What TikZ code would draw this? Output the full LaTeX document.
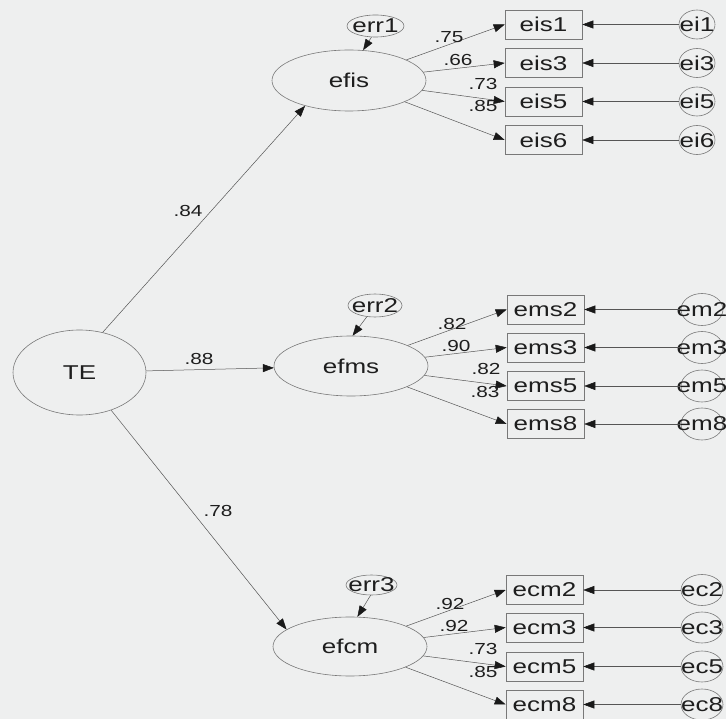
\documentclass[tikz,border=0pt]{standalone}
\usepackage{fontspec}
\setmainfont[FakeStretch=1.3]{Liberation Sans}
\usetikzlibrary{shapes.geometric,arrows.meta}
\definecolor{bg}{RGB}{238,239,239}
\definecolor{ln}{RGB}{85,85,85}
\definecolor{ol}{RGB}{120,120,120}
\definecolor{tx}{RGB}{30,30,30}
\definecolor{tip}{RGB}{25,25,25}
\tikzset{
  lat/.style={ellipse, draw=ol, line width=0.6pt, inner sep=0pt, text=tx, font=\fontsize{20}{24}\selectfont},
  errell/.style={ellipse, draw=ol, line width=0.6pt, inner sep=0pt, label={[text=tx, font=\fontsize{20}{24}\selectfont]center:#1}},
  obs/.style={rectangle, draw=ol, line width=0.6pt, minimum width=77pt, minimum height=29pt, inner sep=0pt, text=tx, font=\fontsize{20}{24}\selectfont},
  coef/.style={text=tx, inner sep=0pt, font=\fontsize{16}{19}\selectfont},
  arr/.style={draw=ln, line width=0.5pt, -{Triangle[length=11pt,width=8pt,color=tip,fill=tip]}},
}
\begin{document}
\begin{tikzpicture}[x=1pt,y=-1pt]
\fill[bg] (0,0) rectangle (726,719);
\useasboundingbox (0,0) rectangle (726,719);

% latent variables
\node[lat, minimum width=133pt, minimum height=85pt] (TE) at (79.5,372.5) {TE};
\node[lat, minimum width=154pt, minimum height=61pt] (efis) at (349,80.5) {efis};
\node[lat, minimum width=154pt, minimum height=60pt] (efms) at (351,366) {efms};
\node[lat, minimum width=154pt, minimum height=59pt] (efcm) at (350,646.5) {efcm};

% disturbances
\node[errell=err1, minimum width=57pt, minimum height=22pt] (err1) at (375.5,26) {};
\node[errell=err2, minimum width=54pt, minimum height=23pt] (err2) at (375,305.5) {};
\node[errell=err3, minimum width=51pt, minimum height=20pt] (err3) at (371.5,585) {};

% observed: efis
\node[obs] (eis1) at (543.5,24.5) {eis1};
\node[obs] (eis3) at (543.5,63) {eis3};
\node[obs] (eis5) at (543.5,101.5) {eis5};
\node[obs] (eis6) at (543.5,140) {eis6};
% observed: efms
\node[obs] (ems2) at (545.5,309.5) {ems2};
\node[obs] (ems3) at (545.5,347.5) {ems3};
\node[obs] (ems5) at (545.5,386) {ems5};
\node[obs] (ems8) at (545.5,424) {ems8};
% observed: efcm
\node[obs] (ecm2) at (544.5,590) {ecm2};
\node[obs] (ecm3) at (544.5,627.5) {ecm3};
\node[obs] (ecm5) at (544.5,666.5) {ecm5};
\node[obs] (ecm8) at (544.5,704.5) {ecm8};

% measurement errors
\node[errell=ei1, minimum width=36pt, minimum height=29pt] (ei1) at (697,24.5) {};
\node[errell=ei3, minimum width=36pt, minimum height=29pt] (ei3) at (697,63) {};
\node[errell=ei5, minimum width=36pt, minimum height=29pt] (ei5) at (697,101.5) {};
\node[errell=ei6, minimum width=36pt, minimum height=29pt] (ei6) at (697,140) {};
\node[errell=em2, minimum width=42pt, minimum height=32pt] (em2) at (702,309.5) {};
\node[errell=em3, minimum width=42pt, minimum height=32pt] (em3) at (702,347.5) {};
\node[errell=em5, minimum width=42pt, minimum height=32pt] (em5) at (702,386) {};
\node[errell=em8, minimum width=42pt, minimum height=32pt] (em8) at (702,424) {};
\node[errell=ec2, minimum width=42pt, minimum height=31pt] (ec2) at (702,590) {};
\node[errell=ec3, minimum width=42pt, minimum height=31pt] (ec3) at (702,627.5) {};
\node[errell=ec5, minimum width=42pt, minimum height=31pt] (ec5) at (702,666.5) {};
\node[errell=ec8, minimum width=42pt, minimum height=31pt] (ec8) at (702,704.5) {};

% structural paths
\draw[arr] (TE.60) -- (efis.210);
\draw[arr] (TE) -- (efms);
\draw[arr] (TE.310) -- (efcm.165);
\draw[arr] (err1.250) -- (efis.65);
\draw[arr] (err2.234) -- (efms.87);
\draw[arr] (err3.265) -- (efcm.76);

% loadings
\foreach \o in {eis1,eis3,eis5,eis6} \draw[arr] (efis) -- (\o.west);
\foreach \o in {ems2,ems3,ems5,ems8} \draw[arr] (efms) -- (\o.west);
\foreach \o in {ecm2,ecm3,ecm5,ecm8} \draw[arr] (efcm) -- (\o.west);

% error paths
\foreach \e/\o in {ei1/eis1,ei3/eis3,ei5/eis5,ei6/eis6,em2/ems2,em3/ems3,em5/ems5,em8/ems8,ec2/ecm2,ec3/ecm3,ec5/ecm5,ec8/ecm8}
  \draw[arr] (\e.west) -- (\o.east);

% coefficients
\node[coef] (c84) at (188,211) {.84};
\node[coef] (c88) at (199,359) {.88};
\node[coef] (c78) at (218,511) {.78};
\node[coef] (c75) at (449,37) {.75};
\node[coef] (c66) at (458,60) {.66};
\node[coef] (c73) at (483,84) {.73};
\node[coef] (c85) at (483,106) {.85};
\node[coef] (d82) at (452,324) {.82};
\node[coef] (d90) at (456,346) {.90};
\node[coef] (d82b) at (486,369) {.82};
\node[coef] (d83) at (485,392) {.83};
\node[coef] (e92) at (450,604) {.92};
\node[coef] (e92b) at (454,626) {.92};
\node[coef] (e73) at (483,649) {.73};
\node[coef] (e85) at (483,672) {.85};
\end{tikzpicture}
\end{document}
